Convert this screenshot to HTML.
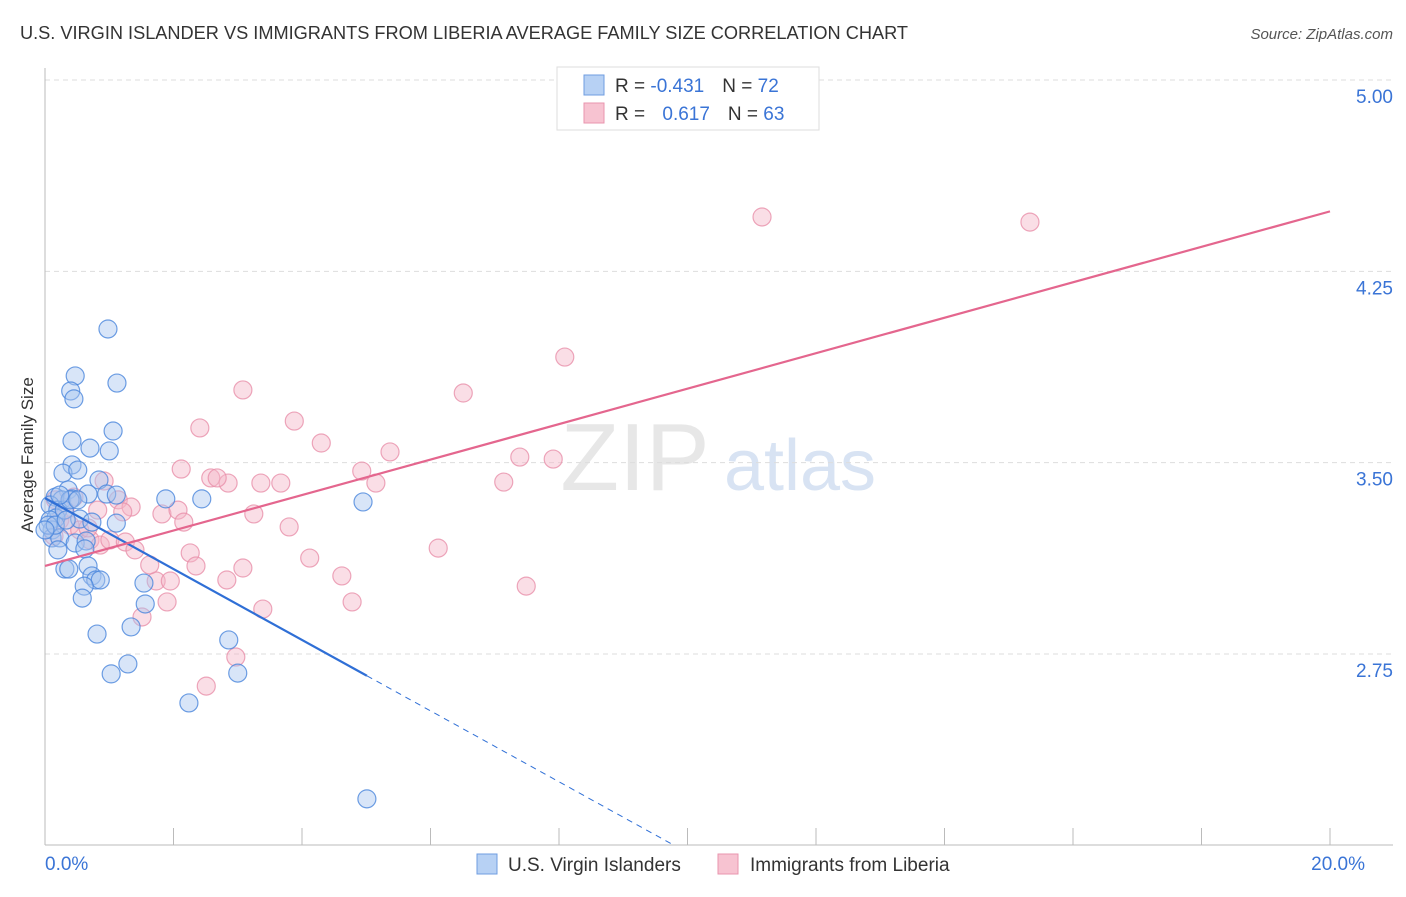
<!DOCTYPE html>
<html><head><meta charset="utf-8"><style>
body{margin:0;background:#fff;font-family:"Liberation Sans",sans-serif;}
svg text{font-family:"Liberation Sans",sans-serif;}
</style></head><body>
<svg id="chart" width="1406" height="892">
<text x="20" y="39" font-size="18.2" fill="#333" textLength="888">U.S. VIRGIN ISLANDER VS IMMIGRANTS FROM LIBERIA AVERAGE FAMILY SIZE CORRELATION CHART</text>
<text x="1393" y="39" font-size="15" fill="#555" text-anchor="end" font-style="italic">Source: ZipAtlas.com</text>
<text x="33" y="455" font-size="17" fill="#333" text-anchor="middle" transform="rotate(-90 33 455)">Average Family Size</text>
<g><text x="635" y="490" font-size="96" fill="#ddd" font-family="Liberation Serif" text-anchor="middle" opacity="0.7">ZIP</text><text x="800" y="490" font-size="72" fill="#c8d8ee" text-anchor="middle" opacity="0.7">atlas</text></g>
<g id="grid"></g><g id="axes"></g><g id="pts"></g><g id="lines"></g>
<g>
<rect x="557" y="67" width="262" height="63" fill="#fff" stroke="#ddd"/>
<rect x="584" y="75" width="20" height="20" fill="#b7d1f4" stroke="#6f9de0"/>
<rect x="584" y="103" width="20" height="20" fill="#f7c3d1" stroke="#e995ae"/>
<text x="615" y="92" font-size="19" fill="#333">R = <tspan fill="#3a74d6">-0.431</tspan><tspan dx="18">N = </tspan><tspan fill="#3a74d6">72</tspan></text>
<text x="615" y="120" font-size="19" fill="#333">R = <tspan fill="#3a74d6" dx="12">0.617</tspan><tspan dx="18">N = </tspan><tspan fill="#3a74d6">63</tspan></text>
</g>
<g>
<rect x="477" y="854" width="20" height="20" fill="#b7d1f4" stroke="#6f9de0"/>
<text x="508" y="871" font-size="19" fill="#333">U.S. Virgin Islanders</text>
<rect x="718" y="854" width="20" height="20" fill="#f7c3d1" stroke="#e995ae"/>
<text x="750" y="871" font-size="19" fill="#333">Immigrants from Liberia</text>
</g>
</svg>
<script>
const yTicks=[5.00,4.25,3.50,2.75];
const yTickLabels=["5.00","4.25","3.50","2.75"];
const xTickLabels=["0.0%","20.0%"];
const blueX=[.98,1.12,.47,.40,.45,1.06,.42,.70,1.00,.42,.28,.51,.84,.36,.67,.96,1.11,1.88,2.44,4.95,.16,.26,.42,.08,.20,.17,.08,.54,.73,1.11,.11,.11,.23,.47,.64,.20,.62,.31,.37,.67,.73,.79,.86,1.54,.61,.58,1.56,.81,1.34,2.86,1.29,1.03,3.00,2.24,5.01,.05,.30,.16,.39,0,.33,.51,.23];
const blueY=[4.024,3.812,3.840,3.781,3.750,3.624,3.585,3.557,3.546,3.491,3.459,3.471,3.432,3.393,3.377,3.377,3.373,3.358,3.358,3.346,3.365,3.354,3.358,3.334,3.314,3.283,3.275,3.279,3.267,3.263,3.236,3.205,3.205,3.185,3.193,3.158,3.162,3.083,3.083,3.095,3.056,3.040,3.040,3.028,3.016,2.969,2.946,2.828,2.856,2.805,2.711,2.672,2.675,2.558,2.182,3.255,3.314,3.255,3.354,3.236,3.275,3.354,3.373];
const pinkX=[11.16,15.33,8.09,3.08,6.51,2.41,3.88,4.30,5.37,2.12,2.58,2.85,2.68,3.36,3.67,4.93,5.15,7.39,7.91,7.14,.92,1.14,1.34,1.82,2.07,2.16,3.25,3.80,6.12,4.12,2.26,2.35,3.08,4.62,1.73,1.95,2.83,7.49,1.90,4.78,3.39,1.51,2.97,2.51,.23,.39,.54,.70,.86,1.01,1.25,1.40,1.63,.16,.31,.45,.82,1.21,.67,.14];
const pinkY=[4.463,4.443,3.914,3.785,3.773,3.636,3.663,3.577,3.542,3.475,3.440,3.420,3.440,3.420,3.420,3.467,3.420,3.522,3.514,3.424,3.428,3.354,3.326,3.299,3.314,3.267,3.299,3.248,3.165,3.126,3.146,3.095,3.087,3.056,3.036,3.036,3.040,3.016,2.954,2.954,2.926,2.895,2.738,2.624,3.275,3.255,3.236,3.197,3.177,3.197,3.189,3.158,3.099,3.354,3.314,3.365,3.314,3.307,3.244,3.212];
const blueTrend=[3.361,-0.139];
const pinkTrend=[3.095,0.0695];
const NS="http://www.w3.org/2000/svg";
function xs(p){return 45+p/20*1285;}
function ys(v){return 80+(5-v)*255.1;}
function mk(tag,attrs,parent){const e=document.createElementNS(NS,tag);for(const k in attrs)e.setAttribute(k,attrs[k]);document.getElementById(parent).appendChild(e);return e;}
yTicks.forEach((t,i)=>{
 const g=mk('line',{x1:45,x2:1393,y1:ys(t),y2:ys(t),stroke:'#ddd','stroke-dasharray':'5,4'},'grid');
 
 
 const l=mk('text',{x:1393,y:ys(t)+23,'font-size':19,fill:'#3a74d6','text-anchor':'end'},'axes');
 l.textContent=yTickLabels[i];
 
 
});
const ax=mk('line',{x1:45,x2:45,y1:68,y2:845,stroke:'#bbb'},'axes');


const bx=mk('line',{x1:45,x2:1393,y1:845,y2:845,stroke:'#bbb'},'axes');


for(let i=0;i<=10;i++){const t=mk('line',{x1:xs(i*2),x2:xs(i*2),y1:828,y2:845,stroke:'#bbb'},'axes');
 
 }
[[0,'start'],[20,'end']].forEach((d,i)=>{const t=mk('text',{x:xs(d[0])+(i?35:0),y:870,'font-size':19,fill:'#3a74d6','text-anchor':d[1]},'axes');t.textContent=xTickLabels[i];
 
 });
function pts(X,Y,fill,stroke,name){X.forEach((x,i)=>{const c=mk('circle',{cx:xs(x),cy:ys(Y[i]),r:9,fill:fill,'fill-opacity':0.45,stroke:stroke,'stroke-opacity':0.8,'stroke-width':1.2},'pts');
 
 });}
pts(pinkX,pinkY,'#f5b5c7','#e890aa','liberia-point');
pts(blueX,blueY,'#a8c6f0','#4a86dc','virgin-islander-point');
const b1=mk('line',{x1:xs(0),y1:ys(blueTrend[0]),x2:xs(5.01),y2:ys(blueTrend[0]+blueTrend[1]*5.01),stroke:'#2f6fd6','stroke-width':2.2},'lines');


const xEnd=(2.0-blueTrend[0])/blueTrend[1];
const b2=mk('line',{x1:xs(5.01),y1:ys(blueTrend[0]+blueTrend[1]*5.01),x2:xs(xEnd),y2:ys(blueTrend[0]+blueTrend[1]*xEnd),stroke:'#2f6fd6','stroke-width':1,'stroke-dasharray':'6,5'},'lines');


const p1=mk('line',{x1:xs(0),y1:ys(pinkTrend[0]),x2:xs(20),y2:ys(pinkTrend[0]+pinkTrend[1]*20),stroke:'#e4668e','stroke-width':2.2},'lines');


</script>
</body></html>
